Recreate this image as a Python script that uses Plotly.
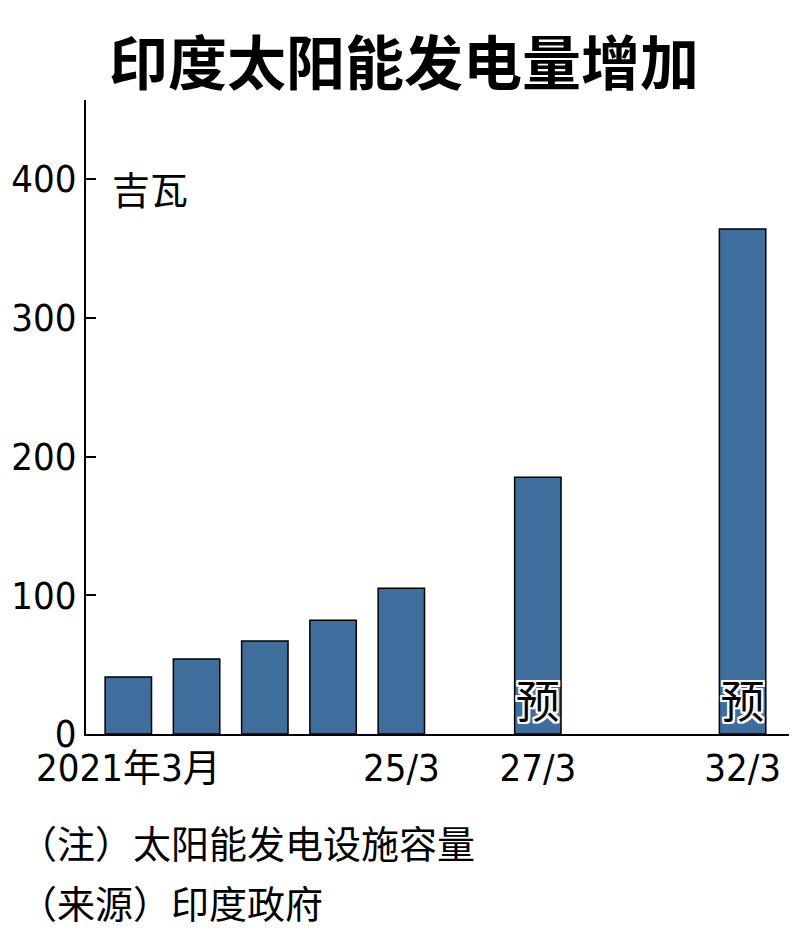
import plotly.graph_objects as go

# %% data
periods = ["2021年3月", "22/3", "23/3", "24/3", "25/3", "27/3", "32/3"]
capacity_gw = [41, 54, 67, 82, 105, 185, 364]
forecast = [False, False, False, False, False, True, True]

# slot order on the x axis (blank slots keep the time gaps)
slot_order = ["2021年3月", "22/3", "23/3", "24/3", "25/3", "26/3", "27/3", "28/3", "29/3", "32/3"]
shown_ticks = ["2021年3月", "25/3", "27/3", "32/3"]

num_font = "DejaVu Sans Condensed, Noto Sans CJK SC, sans-serif"
cjk_font = "Noto Sans CJK SC, sans-serif"
outline = ("2px 0 0 white, -2px 0 0 white, 0 2px 0 white, 0 -2px 0 white, "
           "2px 2px 0 white, -2px -2px 0 white, 2px -2px 0 white, -2px 2px 0 white")

fig = go.Figure(go.Bar(
    x=periods,
    y=capacity_gw,
    marker=dict(color="#3F6E9C", line=dict(color="black", width=1.5)),
    text=["预" if f else "" for f in forecast],
    textposition="inside",
    insidetextanchor="start",
    constraintext="none",
    textangle=0,
    textfont=dict(family=cjk_font, size=44, color="black", shadow=outline),
))

# page body has an 8px margin, so the figure is 8px smaller than the window
fig.update_layout(
    width=792, height=925,
    margin=dict(l=78, r=11, t=92, b=199, autoexpand=False),
    paper_bgcolor="white", plot_bgcolor="white",
    bargap=0.32,
    showlegend=False,
    title=dict(text="<b>印度太阳能发电量增加</b>", x=0.5, xanchor="center",
               y=0.939, yanchor="middle",
               font=dict(family=cjk_font, size=59, color="black")),
)

fig.update_xaxes(
    type="category", categoryorder="array", categoryarray=slot_order,
    range=[-0.62, 9.68], automargin=False,
    tickvals=shown_ticks, ticktext=shown_ticks,
    showline=True, linecolor="black", linewidth=1.5,
    ticks="", showgrid=False,
    tickfont=dict(family=num_font, size=38, color="black"),
)
fig.update_yaxes(
    range=[0, 457], automargin=False,
    tickvals=[0, 100, 200, 300, 400],
    showline=True, linecolor="black", linewidth=2,
    ticks="inside", ticklen=10, tickwidth=2, tickcolor="black",
    ticklabelstandoff=0,
    showgrid=False, zeroline=False,
    tickfont=dict(family=num_font, size=38, color="black"),
)

fig.add_annotation(text="吉瓦", xref="paper", yref="paper", x=0.034, y=0.862,
                   xanchor="left", yanchor="middle", showarrow=False,
                   font=dict(family=cjk_font, size=38, color="black"))
fig.add_annotation(text="（注）太阳能发电设施容量", xref="paper", yref="paper",
                   x=-0.098, y=-0.169, xanchor="left", yanchor="middle", showarrow=False,
                   font=dict(family=cjk_font, size=38, color="black"))
fig.add_annotation(text="（来源）印度政府", xref="paper", yref="paper",
                   x=-0.098, y=-0.264, xanchor="left", yanchor="middle", showarrow=False,
                   font=dict(family=cjk_font, size=38, color="black"))

fig.write_html("out.html")
